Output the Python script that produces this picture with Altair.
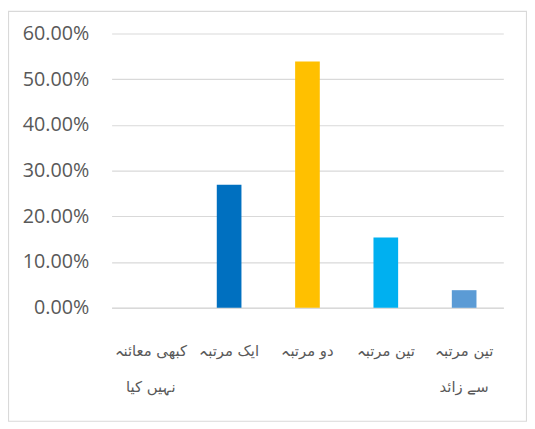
import altair as alt
import pandas as pd

categories = ["کبھی معائنہ|نہیں کیا", "ایک مرتبہ", "دو مرتبہ", "تین مرتبہ", "تین مرتبہ|سے زائد"]
values = [0.0, 0.2692, 0.5385, 0.1538, 0.0385]
colors = ["#0070C0", "#0070C0", "#FFC000", "#00B0F0", "#5B9BD5"]
y_ticks = [0.0, 0.1, 0.2, 0.3, 0.4, 0.5, 0.6]

df = pd.DataFrame({"cat": categories, "val": values, "color": colors})

bars = alt.Chart(df).mark_bar(size=25).encode(
    x=alt.X("cat:N", sort=None, title=None,
            axis=alt.Axis(labelExpr="split(datum.label, '|')", labelAngle=0,
                          labelFont="DejaVu Sans", labelFontSize=15, labelColor="#595959",
                          labelBaseline="top", labelPadding=36, labelLineHeight=37,
                          ticks=False, domainColor="#d9d9d9", domainWidth=1.5,
                          labelLimit=200)),
    y=alt.Y("val:Q", title=None, scale=alt.Scale(domain=[0, 0.6], nice=False),
            axis=alt.Axis(values=y_ticks, format=".2%", labelFont="Open Sans",
                          labelFontSize=20, labelColor="#595959", labelPadding=23,
                          ticks=False, domain=False, gridColor="#d9d9d9", gridWidth=1.2)),
    color=alt.Color("color:N", scale=None),
)

border = alt.Chart(pd.DataFrame({"a": [0]})).mark_rect(
    fill=None, stroke="#d9d9d9", strokeWidth=1.2
).encode(
    x=alt.value(-104.5), x2=alt.value(420.5), y=alt.value(-22.5), y2=alt.value(393)
)

chart = alt.layer(border, bars).properties(
    width=397, height=278,
    autosize=alt.AutoSizeParams(type="none"),
    padding={"left": 105, "top": 23, "right": 24, "bottom": 119},
).configure_view(stroke=None)

chart.save("out.html", embed_options={"renderer": "svg", "actions": False})
